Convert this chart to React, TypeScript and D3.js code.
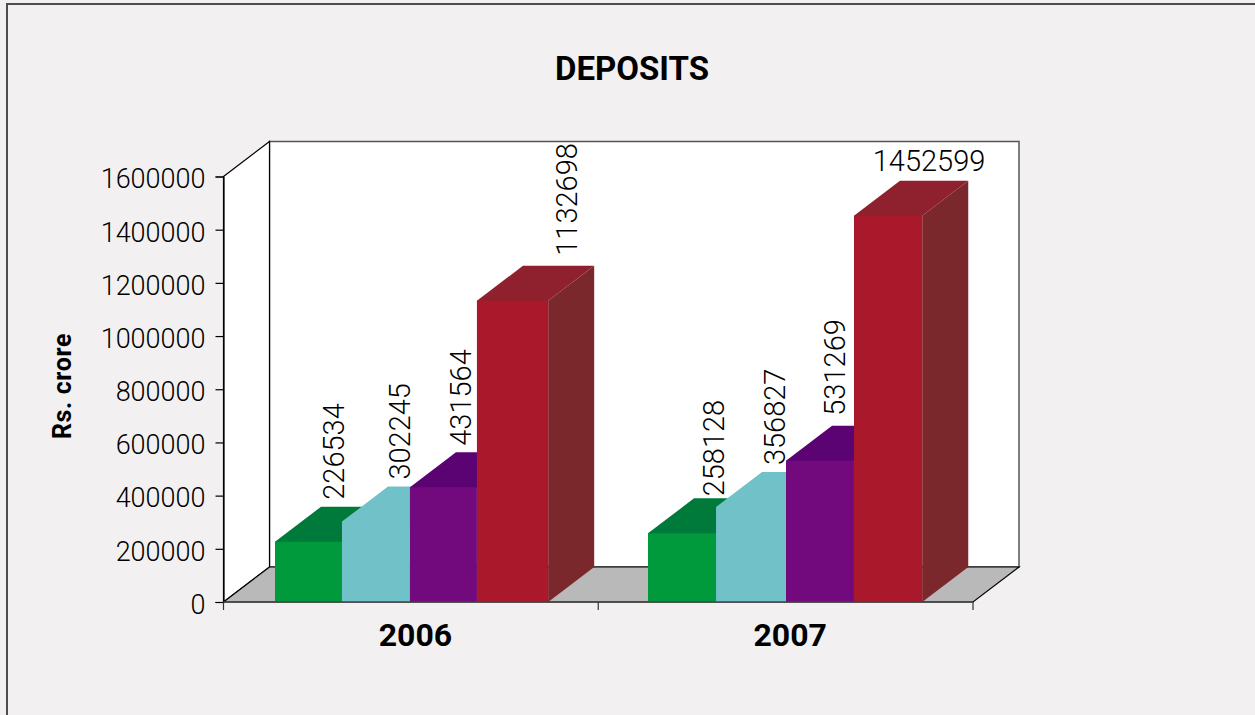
import React, { useEffect, useRef } from 'react';
import * as d3 from 'd3';

const years = ['2006', '2007'];
const seriesNames = ['a', 'b', 'c', 'd'];
const values2006 = [226534, 302245, 431564, 1132698];
const values2007 = [258128, 356827, 531269, 1452599];
const yTicks = [0, 200000, 400000, 600000, 800000, 1000000, 1200000, 1400000, 1600000];

const frontColors = ['#009a3d', '#70c2c8', '#720a7d', '#a9182b'];
const topColors = ['#007a3a', '#70c2c8', '#5c0374', '#8f212e'];
const sideColors = ['#007a3a', '#70c2c8', '#5c0374', '#7b282d'];

const yearValues = [values2006, values2007];

export default function App() {
  const svgRef = useRef<SVGSVGElement>(null);

  useEffect(() => {
    const svg = d3.select(svgRef.current);
    svg.selectAll('*').remove();

    const left = 223.5;
    const right = 973;
    const bottom = 602;
    const top = 176.5;
    const dx = 46;
    const dy = 35;
    const font = 'Roboto, sans-serif';

    const y = d3.scaleLinear().domain([0, 1600000]).range([bottom, top]);
    const x0 = d3.scaleBand<string>().domain(years).range([left, right]);
    const x1 = d3.scaleBand<string>().domain(seriesNames).range([51.5, 325]);

    svg.append('rect').attr('width', 1255).attr('height', 715).attr('fill', '#f2f0f1');

    // outer frame, only left and top are in view
    svg.append('path')
      .attr('d', 'M7,715V4H1255')
      .attr('fill', 'none')
      .attr('stroke', '#4d4d4d')
      .attr('stroke-width', 2);

    svg.append('text')
      .attr('x', 632)
      .attr('y', 80)
      .attr('text-anchor', 'middle')
      .attr('font-family', font)
      .attr('font-weight', 700)
      .attr('font-size', 33)
      .attr('fill', '#000')
      .text('DEPOSITS');

    // walls and floor
    svg.append('rect')
      .attr('x', left + dx)
      .attr('y', top - dy)
      .attr('width', right - left)
      .attr('height', bottom - top)
      .attr('fill', '#fff')
      .attr('stroke', '#555')
      .attr('stroke-width', 1.5);

    svg.append('path')
      .attr('d', `M${left},${top}L${left + dx},${top - dy}V${bottom - dy}L${left},${bottom}Z`)
      .attr('fill', '#fff')
      .attr('stroke', '#000')
      .attr('stroke-width', 1.2);

    svg.append('path')
      .attr('d', `M${left},${bottom}L${left + dx},${bottom - dy}H${right + dx}L${right},${bottom}Z`)
      .attr('fill', '#b9b9b9')
      .attr('stroke', '#000')
      .attr('stroke-width', 1.2);

    // bar edges are a little uneven in the original, one nudge per edge
    const edgeNudge = [[0, -1.4, -1.8, -3.2, -0.3], [-1.75, -2.1, -0.5, -0.9, -1]];
    const step = x1.step();

    // bars, left to right so each one hides the side of the previous
    years.forEach((year, g) => {
      seriesNames.forEach((s, i) => {
        const xa = x0(year)! + x1(s)! + edgeNudge[g][i];
        const xb = x0(year)! + x1(s)! + step + edgeNudge[g][i + 1];
        const yt = y(yearValues[g][i]);
        const bar = svg.append('g');
        bar.append('path')
          .attr('d', `M${xb},${bottom}L${xb + dx},${bottom - dy}V${yt - dy}L${xb},${yt}Z`)
          .attr('fill', sideColors[i]);
        // top runs 1px under the front so no seam shows between them
        bar.append('path')
          .attr('d', `M${xa},${yt + 1}V${yt}L${xa + dx},${yt - dy}H${xb + dx}L${xb},${yt}V${yt + 1}Z`)
          .attr('fill', topColors[i]);
        bar.append('rect')
          .attr('x', xa)
          .attr('y', yt)
          .attr('width', xb - xa)
          .attr('height', bottom - yt)
          .attr('fill', frontColors[i]);
      });
    });

    // value labels sit by hand in the original, so each has its own nudge
    const labelNudgeX = [[1, -1, -8, 29], [7, -1, -9, 17]];
    const labelNudgeY = [[-7, -7, -6.5, -10], [-2, -7, -10, -10]];

    years.forEach((year, g) => {
      seriesNames.forEach((s, i) => {
        const value = yearValues[g][i];
        const cx = x0(year)! + x1(s)! + x1.bandwidth() / 2 + dx / 2 + labelNudgeX[g][i];
        const by = y(value) - dy + labelNudgeY[g][i];
        const horizontal = value === 1452599;
        svg.append('text')
          .attr('transform', horizontal ? `translate(${cx},${by})` : `translate(${cx + 10.5},${by}) rotate(-90)`)
          .attr('text-anchor', horizontal ? 'middle' : 'start')
          .attr('font-family', font)
          .attr('font-weight', 300)
          .attr('font-size', 29)
          .attr('fill', '#000')
          .text(String(value));
      });
    });

    // y axis
    const yAxis = svg.append('g')
      .attr('transform', `translate(${left},0)`)
      .call(d3.axisLeft(y).tickValues(yTicks).tickFormat(d3.format('d')).tickSize(8).tickPadding(10));
    yAxis.select('.domain').attr('stroke', '#000').attr('stroke-width', 1.2);
    yAxis.selectAll('.tick line').attr('stroke', '#000').attr('stroke-width', 1.2);
    yAxis.selectAll('.tick text')
      .attr('dy', '0.42em')
      .attr('font-family', font)
      .attr('font-weight', 300)
      .attr('font-size', 27)
      .attr('fill', '#000');

    // x axis
    const xAxis = svg.append('g').attr('transform', `translate(0,${bottom})`);
    xAxis.append('line').attr('x1', left).attr('x2', right).attr('stroke', '#444').attr('stroke-width', 1.5);
    [left, x0(years[1])!, right].forEach((tx) => {
      xAxis.append('line').attr('x1', tx).attr('x2', tx).attr('y2', 8).attr('stroke', '#333').attr('stroke-width', 1.2);
    });
    years.forEach((year) => {
      xAxis.append('text')
        .attr('x', x0(year)! + x0.bandwidth() / 2 + 4.5)
        .attr('y', 44)
        .attr('text-anchor', 'middle')
        .attr('font-family', font)
        .attr('font-weight', 700)
        .attr('font-size', 32)
        .attr('fill', '#000')
        .text(year);
    });

    svg.append('text')
      .attr('transform', 'translate(71,386) rotate(-90)')
      .attr('text-anchor', 'middle')
      .attr('font-family', font)
      .attr('font-weight', 700)
      .attr('font-size', 25)
      .attr('letter-spacing', 0.6)
      .attr('fill', '#000')
      .text('Rs. crore');
  }, []);

  return (
    <svg
      ref={svgRef}
      width={1255}
      height={715}
      style={{ position: 'absolute', left: 0, top: 0, display: 'block' }}
    />
  );
}
